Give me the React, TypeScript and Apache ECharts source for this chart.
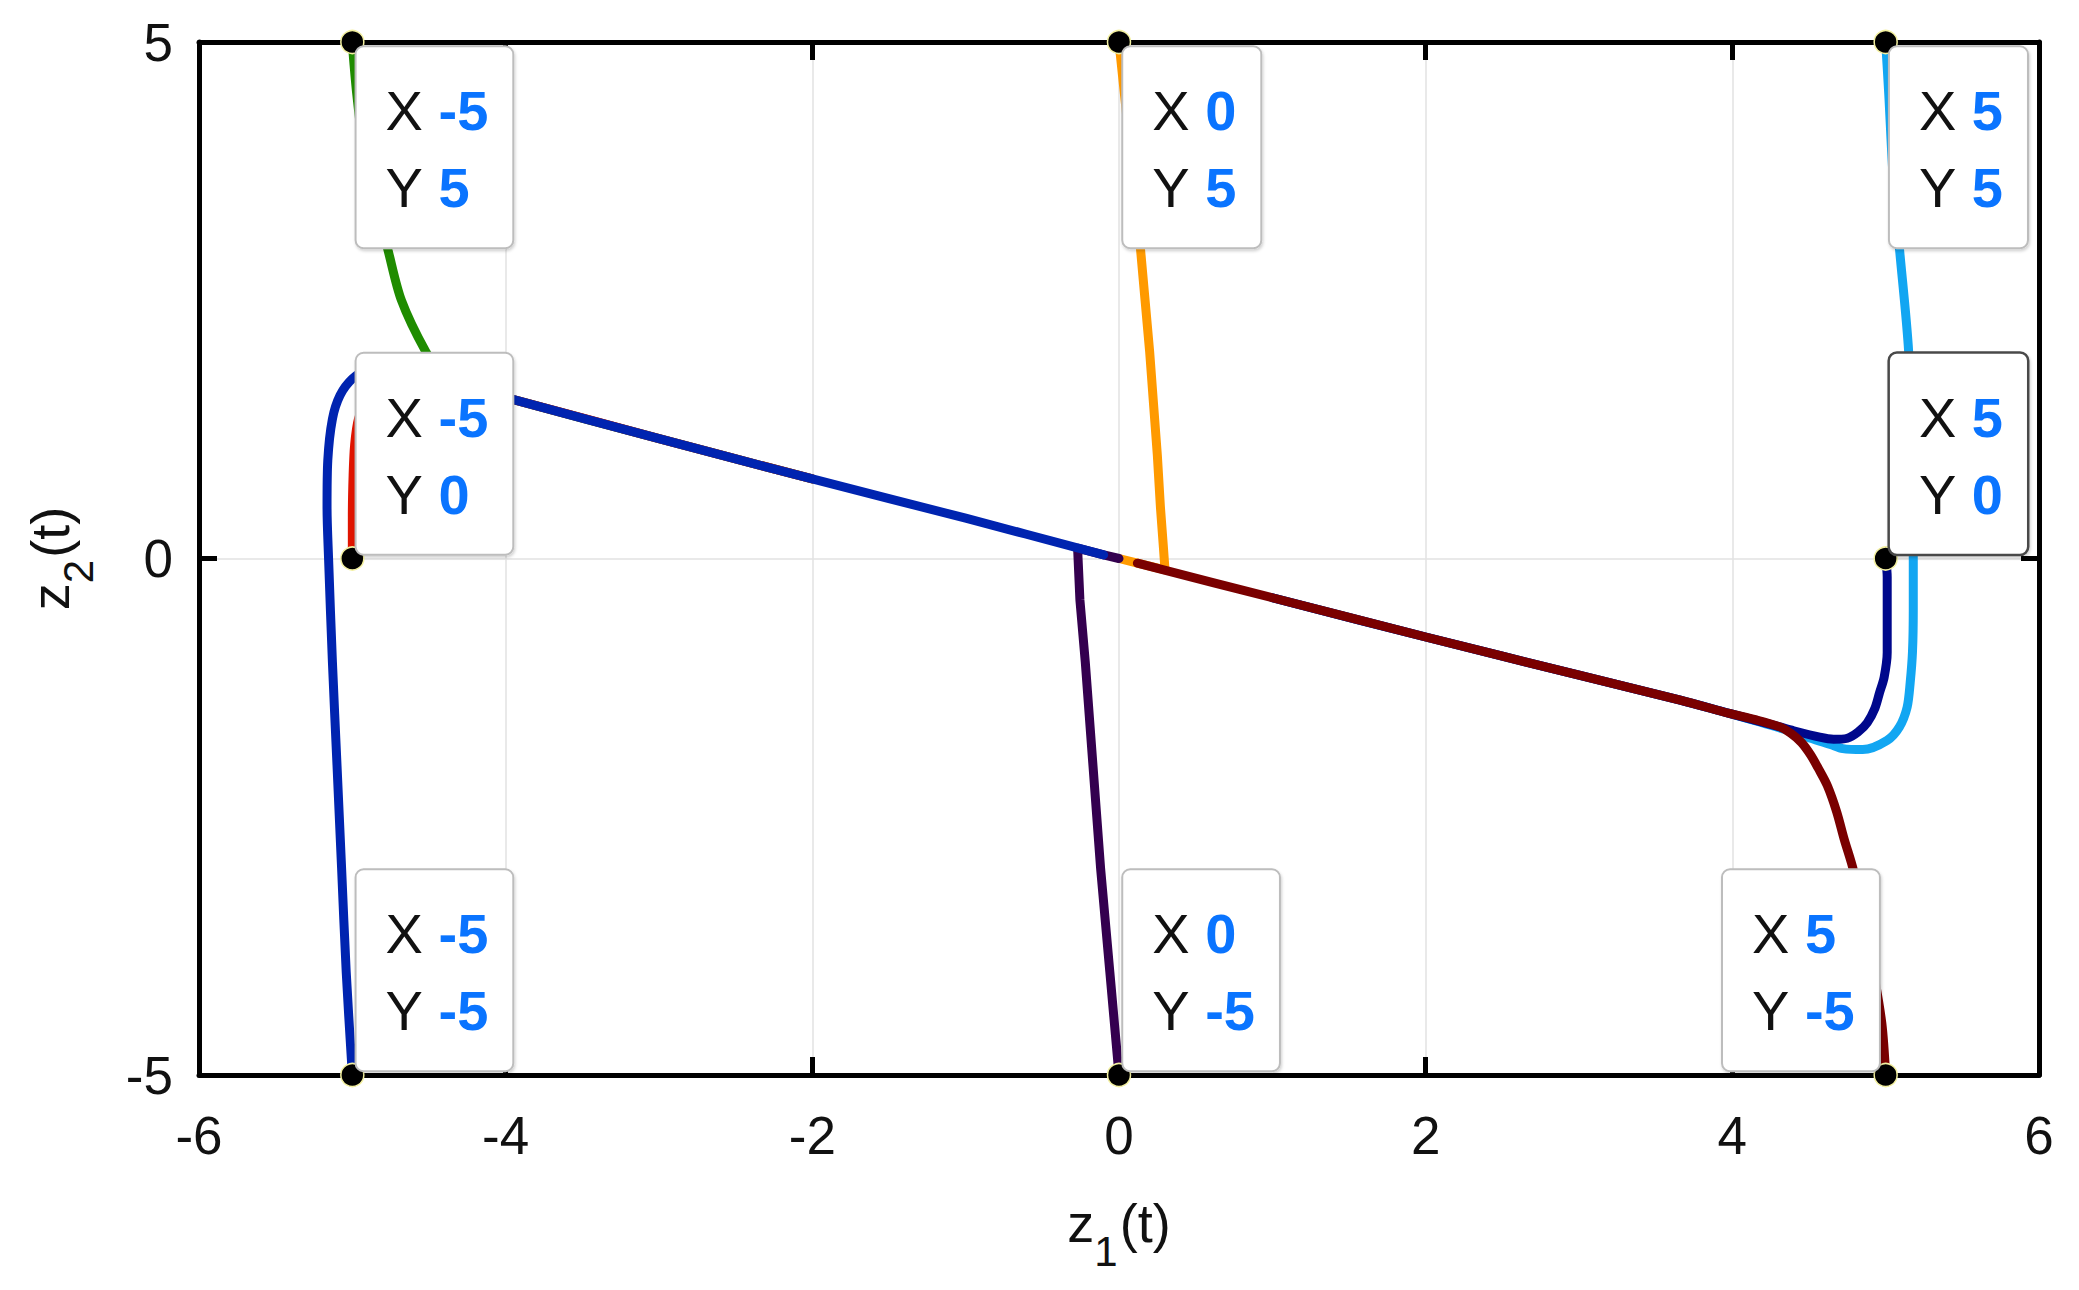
import React, { useEffect, useRef } from "react";
import * as echarts from "echarts";

// ---------- data ----------
const xTicks = [-6, -4, -2, 0, 2, 4, 6];
const yTicks = [-5, 0, 5];

// trajectories (z1, z2)
const greenPath: [number, number][] = [
  [-5, 5], [-4.99, 4.8], [-4.97, 4.48], [-4.93, 4.0], [-4.86, 3.5], [-4.77, 3.0],
  [-4.68, 2.5], [-4.52, 2.0], [-4.42, 1.8], [-4.3, 1.68], [-3.93, 1.53], [-3, 1.16], [-2, 0.77],
];
const redPath: [number, number][] = [
  [-5, 0], [-5, 0.4], [-4.995, 0.8], [-4.985, 1.1], [-4.96, 1.35], [-4.9, 1.55],
  [-4.75, 1.7], [-4.5, 1.72], [-4.2, 1.62], [-3.93, 1.53], [-3, 1.16], [-2, 0.77],
];
const lightBluePath: [number, number][] = [
  [5, 5], [5.02, 4.5], [5.05, 3.66], [5.09, 3.0], [5.15, 2.0], [5.17, 1.0], [5.18, 0],
  [5.18, -0.5], [5.175, -0.9], [5.16, -1.2], [5.14, -1.44], [5.09, -1.63], [5.01, -1.76],
  [4.85, -1.85], [4.72, -1.84], [4.64, -1.8], [4.49, -1.73], [4.33, -1.65], [3.98, -1.5],
  [3.66, -1.37], [3, -1.13], [2, -0.76], [1, -0.38],
];
const navyPath: [number, number][] = [
  [5, 0], [5.01, -0.18], [5.01, -0.5], [5.01, -0.91], [4.99, -1.15], [4.96, -1.3],
  [4.93, -1.45], [4.88, -1.59], [4.82, -1.68], [4.75, -1.74], [4.66, -1.75], [4.57, -1.73],
  [4.38, -1.66], [4.31, -1.63], [3.98, -1.5], [3.66, -1.37], [3, -1.13], [2, -0.76], [1, -0.38],
];
const orangePath: [number, number][] = [
  [0, 5], [0.035, 4.5], [0.07, 4.0], [0.105, 3.5], [0.14, 3.0], [0.17, 2.5], [0.2, 2.0],
  [0.225, 1.5], [0.25, 1.0], [0.27, 0.5], [0.29, 0.1], [0.3, -0.11], [0.12, -0.045], [0, 0],
];
const purplePath: [number, number][] = [
  [0, -5], [-0.06, -4], [-0.12, -3], [-0.17, -2], [-0.22, -1], [-0.255, -0.4],
  [-0.27, 0.1], [-0.1, 0.035], [0, 0],
];
const bluePath: [number, number][] = [
  [-5, -5], [-5.04, -4], [-5.07, -3], [-5.1, -2], [-5.13, -1], [-5.155, 0], [-5.165, 0.5],
  [-5.16, 0.95], [-5.13, 1.35], [-5.08, 1.58], [-5.0, 1.74], [-4.9, 1.83], [-4.75, 1.86],
  [-4.5, 1.79], [-4.2, 1.65], [-3.93, 1.53], [-3, 1.16], [-2, 0.77], [-1, 0.39], [-0.1, 0.035],
];
const maroonPath: [number, number][] = [
  [5, -5], [4.975, -4.5], [4.92, -4.0], [4.855, -3.5], [4.79, -3.02], [4.73, -2.72],
  [4.68, -2.45], [4.62, -2.2], [4.56, -2.03], [4.51, -1.9], [4.45, -1.78], [4.38, -1.69],
  [4.31, -1.63], [4.15, -1.56], [3.98, -1.5], [3.66, -1.37], [3, -1.13], [2, -0.76], [1, -0.38],
  [0.12, -0.045],
];

// initial points carrying data tips
const tipPoints: [number, number][] = [
  [-5, 5], [0, 5], [5, 5], [-5, 0], [5, 0], [-5, -5], [0, -5], [5, -5],
];
const selectedTip = [5, 0];

// ---------- styles ----------
const FONT = "'Liberation Sans', Arial, Helvetica, sans-serif";
const trajectories = [
  { data: greenPath, color: "#1f8c00", smooth: 0.3 },
  { data: redPath, color: "#e01400", smooth: 0.3 },
  { data: lightBluePath, color: "#12a6f2", smooth: 0.3 },
  { data: navyPath, color: "#00088c", smooth: 0.3 },
  { data: orangePath, color: "#ff9a00", smooth: 0 },
  { data: purplePath, color: "#34004f", smooth: 0 },
  { data: bluePath, color: "#0024b0", smooth: 0.3 },
  { data: maroonPath, color: "#7a0000", smooth: 0.3 },
];

const DOT = 23;
function tipLabel(p: [number, number]) {
  const h = DOT / 2;
  let position: [number, number];
  let align = "left";
  let verticalAlign = "top";
  let fixedValueWidth: number | undefined;
  if (p[1] >= 5) {
    position = [h + 5, h + 6];
  } else if (p[0] >= 5 && p[1] <= -5) {
    position = [h - 6, h - 4];
    align = "right";
    verticalAlign = "bottom";
    fixedValueWidth = 50;
  } else {
    position = [h + 5, h - 4];
    verticalAlign = "bottom";
  }
  const sel = p[0] === selectedTip[0] && p[1] === selectedTip[1];
  const k: any = { fontSize: 56, fontFamily: FONT, color: "#111111", lineHeight: 77, align: "left" };
  const v: any = { fontSize: 56, fontFamily: FONT, fontWeight: "bold", color: "#0a74ff", lineHeight: 77, align: "left" };
  if (fixedValueWidth) v.width = fixedValueWidth;
  return {
    show: true,
    position,
    align,
    verticalAlign,
    formatter: `{k|X }{v|${p[0]}}\n{k|Y }{v|${p[1]}}`,
    backgroundColor: "#ffffff",
    borderColor: sel ? "#4a4a4a" : "#bdbdbd",
    borderWidth: sel ? 2.5 : 2,
    borderRadius: 7,
    padding: [25, 24, 21, 29],
    shadowColor: "rgba(0,0,0,0.18)",
    shadowBlur: 3,
    shadowOffsetX: 1,
    shadowOffsetY: 2,
    opacity: 1,
    rich: { k, v },
  };
}

const nameRich = {
  a: { fontSize: 54, fontFamily: FONT, color: "#111", lineHeight: 60, verticalAlign: "top" },
  b: { fontSize: 42, fontFamily: FONT, color: "#111", lineHeight: 40, padding: [34, 2, 0, 0], verticalAlign: "top" },
};

const axisLineStyle = { color: "#000", width: 5 };

export default function App() {
  const ref = useRef<HTMLDivElement>(null);
  useEffect(() => {
    const chart = echarts.init(ref.current!, null, { renderer: "svg" });
    const xMin = xTicks[0];
    const xMax = xTicks[xTicks.length - 1];
    const xInt = xTicks[1] - xTicks[0];
    const yMin = yTicks[0];
    const yMax = yTicks[yTicks.length - 1];
    const yInt = yTicks[1] - yTicks[0];

    const option: any = {
      animation: false,
      backgroundColor: "#ffffff",
      grid: { left: 199, right: 40, top: 42, bottom: 215, containLabel: false },
      xAxis: [
        {
          type: "value",
          min: xMin,
          max: xMax,
          interval: xInt,
          position: "bottom",
          axisLine: { show: true, onZero: false, lineStyle: axisLineStyle },
          axisTick: { show: true, inside: true, length: 18, lineStyle: axisLineStyle },
          axisLabel: { show: true, fontSize: 53, fontFamily: FONT, color: "#111", margin: 34 },
          splitLine: { show: true, lineStyle: { color: "#e2e2e2", width: 1.5 } },
          name: "{a|z}{b|1}{a|(t)}",
          nameLocation: "middle",
          nameGap: 121,
          nameTextStyle: { rich: nameRich },
        },
        {
          type: "value",
          min: xMin,
          max: xMax,
          interval: xInt,
          position: "top",
          axisLine: { show: true, onZero: false, lineStyle: axisLineStyle },
          axisTick: { show: true, inside: true, length: 18, lineStyle: axisLineStyle },
          axisLabel: { show: false },
          splitLine: { show: false },
        },
      ],
      yAxis: [
        {
          type: "value",
          min: yMin,
          max: yMax,
          interval: yInt,
          position: "left",
          axisLine: { show: true, onZero: false, lineStyle: axisLineStyle },
          axisTick: { show: true, inside: true, length: 18, lineStyle: axisLineStyle },
          axisLabel: { show: true, fontSize: 53, fontFamily: FONT, color: "#111", margin: 26 },
          splitLine: { show: true, lineStyle: { color: "#e2e2e2", width: 1.5 } },
          name: "{a|z}{b|2}{a|(t)}",
          nameLocation: "middle",
          nameGap: 116,
          nameTextStyle: { rich: nameRich },
        },
        {
          type: "value",
          min: yMin,
          max: yMax,
          interval: yInt,
          position: "right",
          axisLine: { show: true, onZero: false, lineStyle: axisLineStyle },
          axisTick: { show: true, inside: true, length: 18, lineStyle: axisLineStyle },
          axisLabel: { show: false },
          splitLine: { show: false },
        },
      ],
      series: [
        ...trajectories.map((t, i) => ({
          type: "line",
          data: t.data,
          xAxisIndex: 0,
          yAxisIndex: 0,
          symbol: "none",
          showSymbol: false,
          silent: true,
          smooth: t.smooth,
          z: 2 + i * 0.01,
          lineStyle: { color: t.color, width: 9, cap: "round", join: "round" },
        })),
        {
          type: "scatter",
          xAxisIndex: 0,
          yAxisIndex: 0,
          clip: false,
          silent: true,
          z: 10,
          symbol: "circle",
          symbolSize: DOT,
          itemStyle: { color: "#000", borderColor: "#f3f0a0", borderWidth: 1.5, opacity: 1 },
          data: tipPoints.map((p) => ({ value: p, label: tipLabel(p) })),
        },
      ],
    };
    chart.setOption(option);
    return () => chart.dispose();
  }, []);
  return (
    <div
      ref={ref}
      style={{ position: "fixed", left: 0, top: 0, width: 2079, height: 1290, background: "#fff" }}
    />
  );
}
